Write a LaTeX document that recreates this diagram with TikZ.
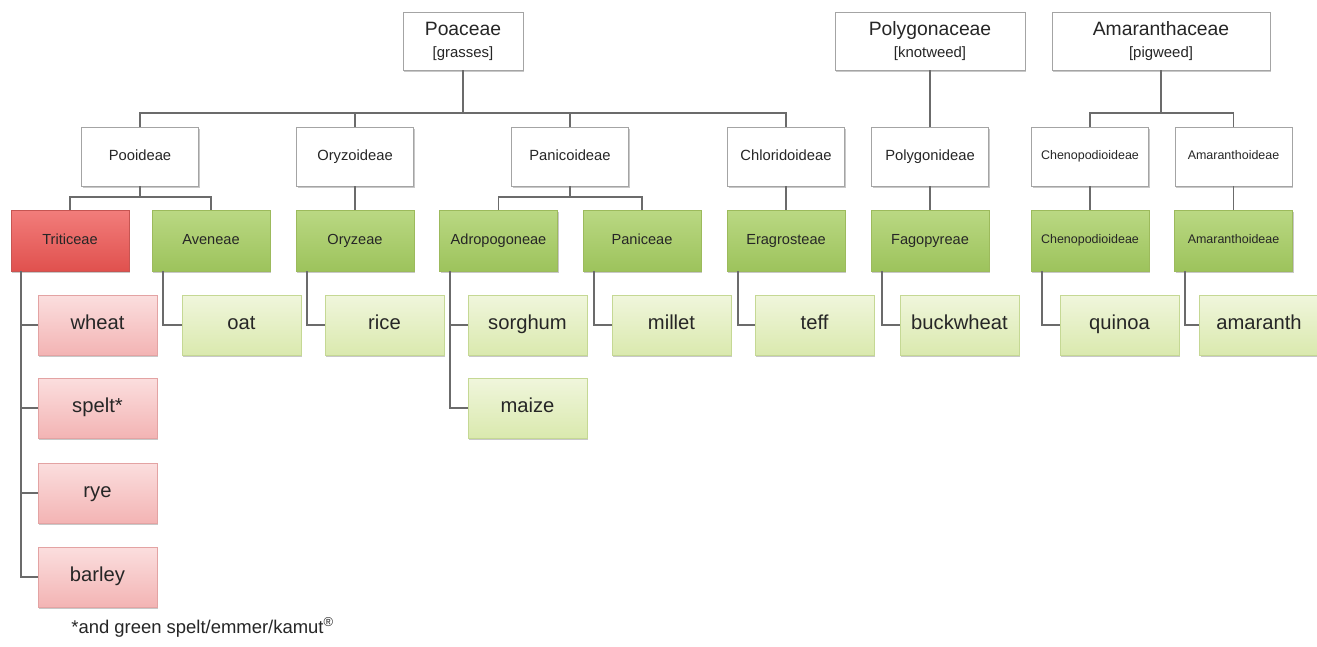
\documentclass[tikz,border=0pt]{standalone}
\usepackage{fontspec}
\setmainfont{Liberation Sans}
\usetikzlibrary{shadows}

\definecolor{linegray}{HTML}{6B6B6B}
\definecolor{boxgray}{HTML}{A4A4A4}
\definecolor{redtop}{HTML}{F27D7B}
\definecolor{redbot}{HTML}{E0514E}
\definecolor{redline}{HTML}{C65552}
\definecolor{greentop}{HTML}{BAD883}
\definecolor{greenbot}{HTML}{9DC35C}
\definecolor{greenline}{HTML}{9CBA5C}
\definecolor{pinktop}{HTML}{FBDEDE}
\definecolor{pinkbot}{HTML}{F3B4B4}
\definecolor{pinkline}{HTML}{E3A3A3}
\definecolor{limetop}{HTML}{F0F6DC}
\definecolor{limebot}{HTML}{DAE9AE}
\definecolor{limeline}{HTML}{C5D894}

\begin{document}
\begin{tikzpicture}[x=0.02cm, y=-0.02cm,
  box/.style={draw, inner sep=0pt, text=black!85,
    drop shadow={shadow xshift=0.7pt, shadow yshift=-0.9pt, opacity=0.3, fill=black!70}},
  fam/.style={box, align=center, draw=boxgray, fill=white, minimum height=1.16cm,
    font=\fontsize{11}{12.5}\selectfont},
  sub/.style={box, draw=boxgray, fill=white, minimum width=2.34cm, minimum height=1.18cm,
    execute at begin node=\strut, font=\fontsize{8.4}{10}\selectfont},
  tribered/.style={box, draw=redline, top color=redtop, bottom color=redbot,
    minimum width=2.36cm, minimum height=1.22cm, execute at begin node=\strut,
    font=\fontsize{8.3}{10}\selectfont},
  tribegreen/.style={box, draw=greenline, top color=greentop, bottom color=greenbot,
    minimum width=2.36cm, minimum height=1.22cm, execute at begin node=\strut,
    font=\fontsize{8.3}{10}\selectfont},
  leafred/.style={box, draw=pinkline, top color=pinktop, bottom color=pinkbot,
    minimum width=2.38cm, minimum height=1.2cm, execute at begin node=\strut,
    font=\fontsize{11.5}{13.5}\selectfont},
  leafgreen/.style={box, draw=limeline, top color=limetop, bottom color=limebot,
    minimum width=2.38cm, minimum height=1.2cm, execute at begin node=\strut,
    font=\fontsize{11.5}{13.5}\selectfont},
  link/.style={draw=linegray, line width=1.1pt},
  small/.style={font=\fontsize{7.1}{8.5}\selectfont}]

  \path[use as bounding box, fill=white] (0,0) rectangle (1317,646);

  % families
  \node[fam, minimum width=2.4cm] (poaceae) at (463,41) {Poaceae\\{\fontsize{8.5}{9}\selectfont [grasses]}};
  \node[fam, minimum width=3.8cm] (polygonaceae) at (930,41) {Polygonaceae\\{\fontsize{8.5}{9}\selectfont [knotweed]}};
  \node[fam, minimum width=4.36cm] (amaranthaceae) at (1161,41) {Amaranthaceae\\{\fontsize{8.5}{9}\selectfont [pigweed]}};

  % subfamilies
  \node[sub] (pooideae) at (140,156.5) {Pooideae};
  \node[sub] (oryzoideae) at (355,156.5) {Oryzoideae};
  \node[sub] (panicoideae) at (570,156.5) {Panicoideae};
  \node[sub] (chloridoideae) at (786,156.5) {Chloridoideae};
  \node[sub] (polygonideae) at (930,156.5) {Polygonideae};
  \node[sub, small] (chenopodioideae) at (1090,156.5) {Chenopodioideae};
  \node[sub, small] (amaranthoideae) at (1233.5,156.5) {Amaranthoideae};

  % tribes
  \node[tribered] (triticeae) at (70,240.5) {Triticeae};
  \node[tribegreen] (aveneae) at (211,240.5) {Aveneae};
  \node[tribegreen] (oryzeae) at (355,240.5) {Oryzeae};
  \node[tribegreen] (adropogoneae) at (498.5,240.5) {Adropogoneae};
  \node[tribegreen] (paniceae) at (642,240.5) {Paniceae};
  \node[tribegreen] (eragrosteae) at (786,240.5) {Eragrosteae};
  \node[tribegreen] (fagopyreae) at (930,240.5) {Fagopyreae};
  \node[tribegreen, small] (chenotribe) at (1090,240.5) {Chenopodioideae};
  \node[tribegreen, small] (amarantribe) at (1233.5,240.5) {Amaranthoideae};

  % crops
  \node[leafred] (wheat) at (97.5,325) {wheat};
  \node[leafred] (spelt) at (97.5,408) {spelt*};
  \node[leafred] (rye) at (97.5,493) {rye};
  \node[leafred] (barley) at (97.5,577) {barley};
  \node[leafgreen] (oat) at (241.5,325) {oat};
  \node[leafgreen] (rice) at (384.5,325) {rice};
  \node[leafgreen] (sorghum) at (527.5,325) {sorghum};
  \node[leafgreen] (maize) at (527.5,408) {maize};
  \node[leafgreen] (millet) at (671.5,325) {millet};
  \node[leafgreen] (teff) at (814.5,325) {teff};
  \node[leafgreen] (buckwheat) at (959.5,325) {buckwheat};
  \node[leafgreen] (quinoa) at (1119.5,325) {quinoa};
  \node[leafgreen] (amaranth) at (1259,325) {amaranth};

  % family -> subfamily
  \foreach \s in {pooideae,oryzoideae,panicoideae,chloridoideae}
    \draw[link] (poaceae.south) -- ++(0,43) -| (\s.north);
  \draw[link] (polygonaceae.south) -- (polygonideae.north);
  \foreach \s in {chenopodioideae,amaranthoideae}
    \draw[link] (amaranthaceae.south) -- ++(0,43) -| (\s.north);

  % subfamily -> tribe
  \foreach \t in {triticeae,aveneae}
    \draw[link] (pooideae.south) -- ++(0,11) -| (\t.north);
  \foreach \t in {adropogoneae,paniceae}
    \draw[link] (panicoideae.south) -- ++(0,11) -| (\t.north);
  \draw[link] (oryzoideae.south) -- (oryzeae.north);
  \draw[link] (chloridoideae.south) -- (eragrosteae.north);
  \draw[link] (polygonideae.south) -- (fagopyreae.north);
  \draw[link] (chenopodioideae.south) -- (chenotribe.north);
  \draw[link] (amaranthoideae.south) -- (amarantribe.north);

  % tribe -> crop
  \foreach \c in {wheat,spelt,rye,barley}
    \draw[link] (triticeae.south west) ++(10,0) |- (\c.west);
  \foreach \c in {sorghum,maize}
    \draw[link] (adropogoneae.south west) ++(11,0) |- (\c.west);
  \draw[link] (aveneae.south west) ++(11,0) |- (oat.west);
  \draw[link] (oryzeae.south west) ++(11,0) |- (rice.west);
  \draw[link] (paniceae.south west) ++(11,0) |- (millet.west);
  \draw[link] (eragrosteae.south west) ++(11,0) |- (teff.west);
  \draw[link] (fagopyreae.south west) ++(11,0) |- (buckwheat.west);
  \draw[link] (chenotribe.south west) ++(11,0) |- (quinoa.west);
  \draw[link] (amarantribe.south west) ++(11,0) |- (amaranth.west);

  \node[anchor=west, inner sep=0pt, text=black!85, font=\fontsize{10.5}{12}\selectfont] (note) at (71,627)
    {*and green spelt/emmer/kamut\textsuperscript{\textregistered}};
\end{tikzpicture}
\end{document}
